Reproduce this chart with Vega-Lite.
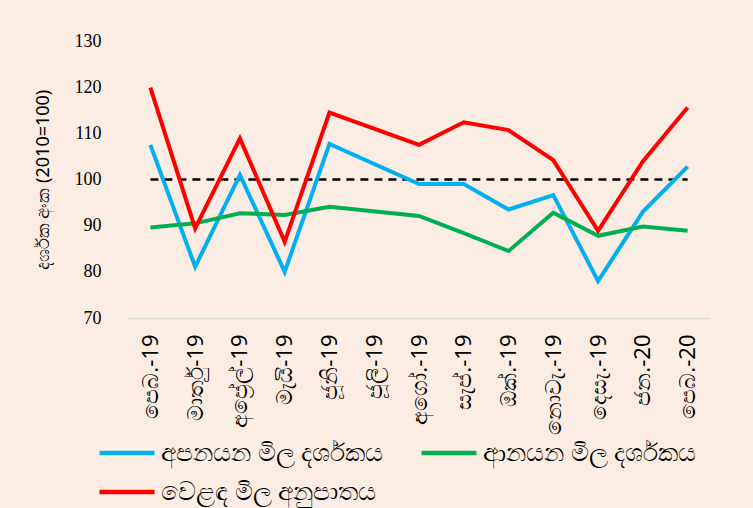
{
  "$schema": "https://vega.github.io/schema/vega-lite/v6.json",
  "width": 582,
  "height": 277,
  "autosize": {"type": "none"},
  "padding": {"left": 128, "top": 41, "right": 43, "bottom": 190},
  "background": "#fcede4",
  "config": {"view": {"stroke": null}, "font": "Noto Sans"},
  "datasets": {
    "series": [
      {"month": "පෙබ.-19", "series": "අපනයන මිල දර්ශකය", "value": 107.5},
      {"month": "මාර්තු-19", "series": "අපනයන මිල දර්ශකය", "value": 81.1},
      {"month": "අප්‍රේල්-19", "series": "අපනයන මිල දර්ශකය", "value": 101.0},
      {"month": "මැයි-19", "series": "අපනයන මිල දර්ශකය", "value": 80.0},
      {"month": "ජූනි-19", "series": "අපනයන මිල දර්ශකය", "value": 107.7},
      {"month": "අගෝ.-19", "series": "අපනයන මිල දර්ශකය", "value": 99.0},
      {"month": "සැප්.-19", "series": "අපනයන මිල දර්ශකය", "value": 99.0},
      {"month": "ඔක්.-19", "series": "අපනයන මිල දර්ශකය", "value": 93.5},
      {"month": "නොවැ.-19", "series": "අපනයන මිල දර්ශකය", "value": 96.6},
      {"month": "දෙසැ.-19", "series": "අපනයන මිල දර්ශකය", "value": 78.0},
      {"month": "ජන.-20", "series": "අපනයන මිල දර්ශකය", "value": 93.0},
      {"month": "පෙබ.-20", "series": "අපනයන මිල දර්ශකය", "value": 102.8},
      {"month": "පෙබ.-19", "series": "ආනයන මිල දර්ශකය", "value": 89.6},
      {"month": "මාර්තු-19", "series": "ආනයන මිල දර්ශකය", "value": 90.5},
      {"month": "අප්‍රේල්-19", "series": "ආනයන මිල දර්ශකය", "value": 92.7},
      {"month": "මැයි-19", "series": "ආනයන මිල දර්ශකය", "value": 92.3},
      {"month": "ජූනි-19", "series": "ආනයන මිල දර්ශකය", "value": 94.1},
      {"month": "අගෝ.-19", "series": "ආනයන මිල දර්ශකය", "value": 92.1},
      {"month": "සැප්.-19", "series": "ආනයන මිල දර්ශකය", "value": 88.4},
      {"month": "ඔක්.-19", "series": "ආනයන මිල දර්ශකය", "value": 84.5},
      {"month": "නොවැ.-19", "series": "ආනයන මිල දර්ශකය", "value": 92.8},
      {"month": "දෙසැ.-19", "series": "ආනයන මිල දර්ශකය", "value": 87.8},
      {"month": "ජන.-20", "series": "ආනයන මිල දර්ශකය", "value": 89.8},
      {"month": "පෙබ.-20", "series": "ආනයන මිල දර්ශකය", "value": 88.9},
      {"month": "පෙබ.-19", "series": "වෙළඳ මිල අනුපාතය", "value": 119.9},
      {"month": "මාර්තු-19", "series": "වෙළඳ මිල අනුපාතය", "value": 89.4},
      {"month": "අප්‍රේල්-19", "series": "වෙළඳ මිල අනුපාතය", "value": 108.9},
      {"month": "මැයි-19", "series": "වෙළඳ මිල අනුපාතය", "value": 86.5},
      {"month": "ජූනි-19", "series": "වෙළඳ මිල අනුපාතය", "value": 114.5},
      {"month": "අගෝ.-19", "series": "වෙළඳ මිල අනුපාතය", "value": 107.5},
      {"month": "සැප්.-19", "series": "වෙළඳ මිල අනුපාතය", "value": 112.4},
      {"month": "ඔක්.-19", "series": "වෙළඳ මිල අනුපාතය", "value": 110.7},
      {"month": "නොවැ.-19", "series": "වෙළඳ මිල අනුපාතය", "value": 104.2},
      {"month": "දෙසැ.-19", "series": "වෙළඳ මිල අනුපාතය", "value": 88.9},
      {"month": "ජන.-20", "series": "වෙළඳ මිල අනුපාතය", "value": 103.9},
      {"month": "පෙබ.-20", "series": "වෙළඳ මිල අනුපාතය", "value": 115.6}
    ],
    "base": [
      {"month": "පෙබ.-19", "value": 100},
      {"month": "මාර්තු-19", "value": 100},
      {"month": "අප්‍රේල්-19", "value": 100},
      {"month": "මැයි-19", "value": 100},
      {"month": "ජූනි-19", "value": 100},
      {"month": "ජූලි-19", "value": 100},
      {"month": "අගෝ.-19", "value": 100},
      {"month": "සැප්.-19", "value": 100},
      {"month": "ඔක්.-19", "value": 100},
      {"month": "නොවැ.-19", "value": 100},
      {"month": "දෙසැ.-19", "value": 100},
      {"month": "ජන.-20", "value": 100},
      {"month": "පෙබ.-20", "value": 100}
    ]
  },
  "encoding": {
    "x": {
      "field": "month",
      "type": "ordinal",
      "sort": null,
      "scale": {
        "type": "point",
        "padding": 0.5,
        "domain": ["පෙබ.-19", "මාර්තු-19", "අප්‍රේල්-19", "මැයි-19", "ජූනි-19", "ජූලි-19", "අගෝ.-19", "සැප්.-19", "ඔක්.-19", "නොවැ.-19", "දෙසැ.-19", "ජන.-20", "පෙබ.-20"]
      },
      "axis": {
        "title": null,
        "labelAngle": -90,
        "labelAlign": "right",
        "labelBaseline": "middle",
        "labelFontSize": 22,
        "labelColor": "#000000",
        "labelPadding": 16,
        "ticks": false,
        "domainColor": "#d9d9d9",
        "domainWidth": 1.5,
        "grid": false
      }
    },
    "y": {
      "field": "value",
      "type": "quantitative",
      "scale": {"domain": [70, 130], "nice": false, "zero": false},
      "axis": {
        "title": "දර්ශක අංක (2010=100)",
        "titleFontSize": 18,
        "titleFontWeight": "normal",
        "titleColor": "#000000",
        "titlePadding": 22,
        "values": [70, 80, 90, 100, 110, 120, 130],
        "labelFont": "Liberation Serif",
        "labelFontSize": 18,
        "labelColor": "#000000",
        "labelPadding": 27,
        "ticks": false,
        "domain": false,
        "grid": false
      }
    }
  },
  "layer": [
    {
      "data": {"name": "base"},
      "mark": {"type": "line", "color": "#000000", "strokeWidth": 2.5, "strokeDash": [8, 6]}
    },
    {
      "data": {"name": "series"},
      "mark": {"type": "line", "strokeWidth": 4, "strokeJoin": "miter"},
      "encoding": {
        "color": {
          "field": "series",
          "type": "nominal",
          "scale": {
            "domain": ["අපනයන මිල දර්ශකය", "ආනයන මිල දර්ශකය", "වෙළඳ මිල අනුපාතය"],
            "range": ["#00b0f0", "#00b050", "#ff0000"]
          },
          "legend": {
            "title": null,
            "orient": "none",
            "direction": "horizontal",
            "columns": 2,
            "legendX": -17,
            "legendY": 396,
            "symbolType": "M-2,0H2",
            "symbolSize": 756,
            "symbolStrokeWidth": 4.5,
            "labelOffset": 18,
            "labelFontSize": 25,
            "labelColor": "#000000",
            "labelLimit": 400,
            "columnPadding": 28,
            "rowPadding": 10
          }
        }
      }
    }
  ]
}
